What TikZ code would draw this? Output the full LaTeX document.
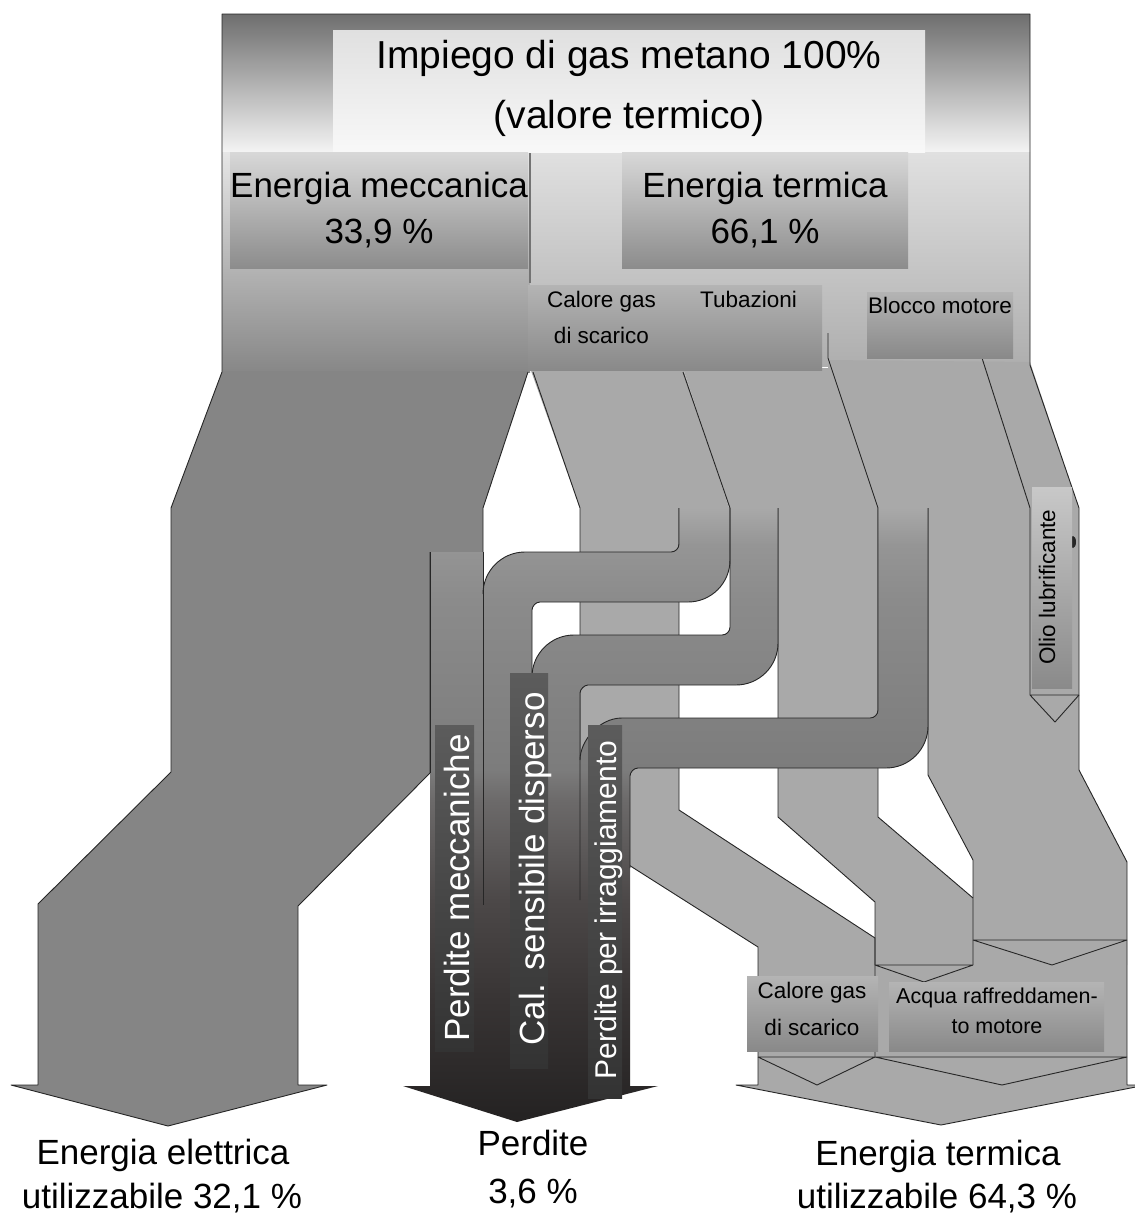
\documentclass[tikz,border=0pt]{standalone}
\usepackage{fontspec}
\setmainfont{Liberation Sans}
\definecolor{lg1}{HTML}{242222}
\definecolor{lg2}{HTML}{383434}
\definecolor{lg3}{HTML}{4C4848}
\definecolor{lg4}{HTML}{6C6A6A}
\definecolor{lg5}{HTML}{7C7C7C}
\definecolor{lg6}{HTML}{8B8B8B}
\definecolor{lg7}{HTML}{959595}
\definecolor{lg8}{HTML}{A9A9A9}
\definecolor{t1top}{HTML}{6E6E6E}
\definecolor{t1bot}{HTML}{F4F4F4}
\definecolor{t2top}{HTML}{E6E6E6}
\definecolor{t2bot}{HTML}{878787}
\definecolor{t3top}{HTML}{E0E0E0}
\definecolor{t3bot}{HTML}{AEAEAE}
\definecolor{elec}{HTML}{858585}
\definecolor{flow}{HTML}{A9A9A9}
\definecolor{tittop}{HTML}{E0E0E0}
\definecolor{titbot}{HTML}{F8F8F8}
\definecolor{bbtop}{HTML}{D8D8D8}
\definecolor{bbbot}{HTML}{8C8C8C}
\definecolor{sbtop}{HTML}{B4B4B4}
\definecolor{sbbot}{HTML}{898989}
\definecolor{oltop}{HTML}{C8C8C8}
\definecolor{olbot}{HTML}{8A8A8A}
\definecolor{dktop}{HTML}{5C5C5C}
\definecolor{dkbot}{HTML}{333333}
\definecolor{linec}{HTML}{262626}
\pgfdeclareverticalshading{lossgrad}{100bp}{color(0bp)=(lg1); color(25bp)=(lg1); color(34.9bp)=(lg2); color(43.1bp)=(lg3); color(51.2bp)=(lg4); color(53.7bp)=(lg5); color(67.5bp)=(lg6); color(72bp)=(lg7); color(75bp)=(lg8); color(100bp)=(lg8)}
\tikzset{
  outl/.style={draw=linec, line width=0.9pt, line join=round},
  lbl/.style={inner sep=0pt, anchor=base, text=black},
  rot/.style={inner sep=0pt, anchor=center, rotate=90},
  fsT/.style={font=\fontsize{39}{47}\selectfont},
  fsL/.style={font=\fontsize{35}{42}\selectfont},
  fsM/.style={font=\fontsize{30}{36}\selectfont},
  fsS/.style={font=\fontsize{22.5}{27}\selectfont},
  fsX/.style={font=\fontsize{21.5}{26}\selectfont},
  titlebox/.style={top color=tittop, bottom color=titbot},
  bigbox/.style={top color=bbtop, bottom color=bbbot},
  smallbox/.style={top color=sbtop, bottom color=sbbot},
  oliobox/.style={top color=oltop, bottom color=olbot},
  darkbox/.style={top color=dktop, bottom color=dkbot},
}
\begin{document}
\begin{tikzpicture}[x=1pt,y=-1pt]
\useasboundingbox (0,0) rectangle (1135,1216);
\fill[white] (0,0) rectangle (1135,1216);

% ---------- top gradient area ----------
\shade[top color=t1top, bottom color=t1bot] (222,14) rectangle (1030,152);
\shade[top color=t2top, bottom color=t2bot] (222,152) rectangle (530,372);
\shade[top color=t3top, bottom color=t3bot] (530,152) rectangle (1030,366);

% ---------- electric / mechanical band ----------
\fill[elec] (222,371) -- (222,372) -- (171,508) -- (171,772) -- (38,904) -- (38,1085) -- (11,1085) -- (168,1126) -- (327,1085) -- (298,1085) -- (298,906) -- (430,773) -- (430,552) -- (483,552) -- (483,508) -- (528,372) -- (528,371) -- cycle;

% ---------- thermal flows ----------
\fill[flow] (530,368) -- (580,508) -- (580,834) -- (758,947) -- (758,1060) -- (875,1060) -- (875,938) -- (679,810) -- (679,508) -- (729,508) -- (683,368) -- cycle;
\fill[flow] (683,368) -- (729,508) -- (778,508) -- (778,817) -- (875,902) -- (875,965) -- (924,982) -- (973,965) -- (973,898) -- (878,817) -- (878,508) -- (828,358) -- (828,368) -- cycle;
\fill[flow] (828,360) -- (878,508) -- (928,508) -- (928,775) -- (973,860) -- (973,965) -- (1127,965) -- (1127,862) -- (1079,770) -- (1079,508) -- (1030,362) -- cycle;
\fill[flow] (758,1057) -- (758,1085) -- (736,1085) -- (941,1125) -- (1146,1085) -- (1127,1085) -- (1127,940) -- (875,940) -- (875,1057) -- cycle;

% ---------- flow outlines ----------
\draw[outl] (533,372) -- (580,508) -- (580,834) -- (758,947) -- (758,1085) -- (736,1085) -- (941,1125) -- (1146,1085) -- (1127,1085) -- (1127,862) -- (1079,770) -- (1079,508) -- (1030,365) -- (1030,14) -- (222,14) -- (222,372) -- (171,508) -- (171,772) -- (38,904) -- (38,1085) -- (11,1085) -- (168,1126) -- (327,1085) -- (298,1085) -- (298,906) -- (430,773) -- (430,552);
\draw[outl] (528,372) -- (483,508) -- (483,552);
\draw[outl] (679,508) -- (679,810) -- (875,938) -- (875,1057);
\draw[outl] (683,372) -- (730,508);
\draw[outl] (778,508) -- (778,817) -- (875,902) -- (875,965);
\draw[outl] (828,333) -- (828,358) -- (878,508) -- (878,817) -- (973,898);
\draw[outl] (928,508) -- (928,775) -- (973,860) -- (973,965);
\draw[outl] (875,965) -- (973,965) (875,965) -- (924,982) -- (973,965);
\draw[outl] (973,940) -- (1127,940) (973,940) -- (1052,965) -- (1127,940);
\draw[outl] (982,358) -- (1030,508) -- (1030,695);
\draw[outl] (1030,695) -- (1079,695) (1030,695) -- (1055,722) -- (1079,695);
\draw[outl] (758,1057) -- (1127,1057) (758,1057) -- (817,1085) -- (875,1057) -- (1002,1085) -- (1127,1057);

% ---------- losses: pipes and dark arrow ----------
\shade[shading=lossgrad]
  (679,508) -- (679,544) .. controls (679,548.42) and (675.42,552) .. (671,552) -- (525,552) .. controls (501.8,552) and (483,570.8) .. (483,594) -- (483,776) -- (532,776) -- (532,610) .. controls (532,606.42) and (535.58,602) .. (540,602) -- (688,602) .. controls (711.2,602) and (730,583.2) .. (730,560) -- (730,508) -- cycle
  (730,508) -- (730,627) .. controls (730,631.42) and (726.42,635) .. (722,635) -- (574,635) .. controls (550.8,635) and (532,653.8) .. (532,677) -- (532,776) -- (580,776) -- (580,693) .. controls (580,689.42) and (584.42,685) .. (588,685) -- (736,685) .. controls (759.2,685) and (778,666.2) .. (778,643) -- (778,508) -- cycle
  (878,508) -- (878,710) .. controls (878,714.42) and (874.42,718) .. (870,718) -- (622,718) .. controls (598.8,718) and (580,741.2) .. (580,760) -- (580,776) -- (630,776) .. controls (630,772.42) and (633.58,768) .. (638,768) -- (886,768) .. controls (909.2,768) and (928,749.2) .. (928,726) -- (928,508) -- cycle
  (430,552) -- (483,552) -- (483,776) -- (430,776) -- cycle
  (430,776) -- (630,776) -- (630,1086) -- (658,1086) -- (517,1122) -- (403,1086) -- (430,1086) -- cycle;

% pipe edges
\draw[outl] (679,508) -- (679,544) .. controls (679,548.42) and (675.42,552) .. (671,552) -- (525,552) .. controls (501.8,552) and (483,570.8) .. (483,594);
\draw[outl] (483,552) -- (483,905);
\draw[outl] (430,552) -- (430,773);
\draw[outl] (730,508) -- (730,560) .. controls (730,583.2) and (711.2,602) .. (688,602) -- (540,602) .. controls (535.58,602) and (532,606.42) .. (532,610) -- (532,680);
\draw[outl] (730,508) -- (730,627) .. controls (730,631.42) and (726.42,635) .. (722,635) -- (574,635) .. controls (550.8,635) and (532,653.8) .. (532,677);
\draw[outl] (778,508) -- (778,643) .. controls (778,666.2) and (759.2,685) .. (736,685) -- (588,685) .. controls (584.42,685) and (580,689.42) .. (580,693) -- (580,900);
\draw[outl] (878,508) -- (878,710) .. controls (878,714.42) and (874.42,718) .. (870,718) -- (622,718) .. controls (598.8,718) and (580,741.2) .. (580,760);
\draw[outl] (928,508) -- (928,726) .. controls (928,749.2) and (909.2,768) .. (886,768) -- (638,768) .. controls (633.58,768) and (630,772.42) .. (630,776) -- (630,868);
\fill[linec] (1073,542) ellipse [x radius=3, y radius=6];

% separator
\draw[draw=black!55, line width=1.5pt] (530,153) -- (530,283);

% ---------- label boxes ----------
\shade[titlebox] (333,30) rectangle (925,152);
\shade[bigbox] (230,152) rectangle (528,268);
\shade[bigbox] (622,152) rectangle (908,268);
\shade[smallbox] (528,285) rectangle (675,370);
\shade[smallbox] (675,285) rectangle (822,370);
\shade[smallbox] (867,292) rectangle (1013,358);
\shade[oliobox] (1032,487) rectangle (1072,688);
\shade[smallbox] (747,976) rectangle (878,1051);
\shade[smallbox] (889,982) rectangle (1104,1051);
\shade[darkbox] (435,725) rectangle (474,1051);
\shade[darkbox] (510,673) rectangle (548,1068);
\shade[darkbox] (588,725) rectangle (622,1098);

% ---------- texts ----------
\node[lbl, fsT] (tit1) at (629,68) {Impiego di gas metano 100\%};
\node[lbl, fsT] (tit2) at (629,128) {(valore termico)};
\node[lbl, fsL] (em1) at (379,197) {Energia meccanica};
\node[lbl, fsL] (em2) at (379,243) {33,9 \%};
\node[lbl, fsL] (et1) at (765,197) {Energia termica};
\node[lbl, fsL] (et2) at (765,243) {66,1 \%};
\node[lbl, fsS] (cg1) at (601.5,307) {Calore gas};
\node[lbl, fsS] (cg2) at (601.5,343) {di scarico};
\node[lbl, fsS] (tub) at (748.5,307) {Tubazioni};
\node[lbl, fsS] (blm) at (940,313) {Blocco motore};
\node[rot, fsS, text=black] (olio) at (1047,587) {Olio lubrificante};
\node[rot, fsL, text=white] (pmec) at (457,888) {Perdite meccaniche};
\node[rot, fsL, text=white] (csd) at (535,869) {Cal. sensibile disperso};
\node[rot, fsM, text=white] (pirr) at (609,910) {Perdite per irraggiamento};
\node[lbl, fsS] (bcg1) at (812,998) {Calore gas};
\node[lbl, fsS] (bcg2) at (812,1035) {di scarico};
\node[lbl, fsX] (acq1) at (997,1003) {Acqua raffreddamen-};
\node[lbl, fsX] (acq2) at (997,1033) {to motore};
\node[lbl, fsL] (ee1) at (163,1164) {Energia elettrica};
\node[lbl, fsL] (ee2) at (162,1208) {utilizzabile 32,1 \%};
\node[lbl, fsL] (pe1) at (533,1155) {Perdite};
\node[lbl, fsL] (pe2) at (533,1203) {3,6 \%};
\node[lbl, fsL] (te1) at (938,1165) {Energia termica};
\node[lbl, fsL] (te2) at (937,1208) {utilizzabile 64,3 \%};
\end{tikzpicture}
\end{document}
